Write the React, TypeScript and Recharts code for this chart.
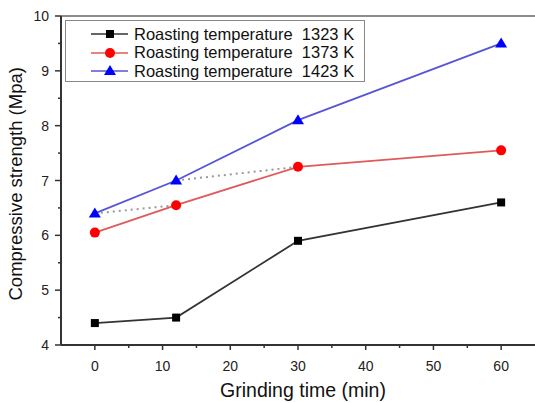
import React from 'react'
import { LineChart, Line, XAxis, YAxis, ReferenceLine } from 'recharts'

const times = [0, 12, 30, 60]
const t1323 = [4.4, 4.5, 5.9, 6.6]
const t1373 = [6.05, 6.55, 7.25, 7.55]
const t1423 = [6.4, 7.0, 8.1, 9.5]
// grey dotted guide segments
const guideA: [number, number][] = [[0, 6.4], [12, 6.55]]
const guideB: [number, number][] = [[12, 7.0], [30, 7.25]]

const xTicks = [-5, 0, 5, 10, 15, 20, 25, 30, 35, 40, 45, 50, 55, 60, 65]
const yTicks = [4, 4.5, 5, 5.5, 6, 6.5, 7, 7.5, 8, 8.5, 9, 9.5, 10]

const SERIES = [
  { key: 'k1323', name: 'Roasting temperature\u00a0\u00a01323 K', line: '#333333', mark: '#000000', shape: 'square' },
  { key: 'k1373', name: 'Roasting temperature\u00a0\u00a01373 K', line: '#e05a5a', mark: '#ff0000', shape: 'circle' },
  { key: 'k1423', name: 'Roasting temperature\u00a0\u00a01423 K', line: '#5555d5', mark: '#0000ff', shape: 'triangle' },
]

const data = times.map((t, i) => {
  const row: Record<string, number | null> = { t, k1323: t1323[i], k1373: t1373[i], k1423: t1423[i], gA: null, gB: null }
  guideA.forEach(([x, y]) => { if (x === t) row.gA = y })
  guideB.forEach(([x, y]) => { if (x === t) row.gB = y })
  return row
})

const FONT = 'Arial, "Liberation Sans", sans-serif'

function Marker({ shape, color, cx, cy }: { shape: string; color: string; cx: number; cy: number }) {
  if (cx == null || cy == null) return null
  if (shape === 'square') return <rect x={cx - 4} y={cy - 4} width={8} height={8} fill={color} />
  if (shape === 'circle') return <circle cx={cx} cy={cy} r={5} fill={color} />
  return <polygon points={`${cx},${cy - 6} ${cx + 6},${cy + 4} ${cx - 6},${cy + 4}`} fill={color} />
}

const XTick = (props: any) => {
  const { x, y, payload } = props
  const v = payload.value
  const major = v % 10 === 0
  const show = major && v >= 0 && v <= 60
  if (v < -4 || v > 64) return null
  return (
    <g>
      <line x1={x} y1={y} x2={x} y2={y + (major ? 5 : 3)} stroke="#333" strokeWidth={1.5} />
      {show && (
        <text x={x} y={y + 26} textAnchor="middle" fontSize={14} fill="#222" fontFamily={FONT}>
          {v}
        </text>
      )}
    </g>
  )
}

const YTick = (props: any) => {
  const { x, y, payload } = props
  const v = payload.value
  const major = Number.isInteger(v)
  return (
    <g>
      <line x1={x} y1={y} x2={x - (major ? 6 : 3)} y2={y} stroke="#333" strokeWidth={1.5} />
      {major && (
        <text x={x - 12} y={y + 5} textAnchor="end" fontSize={14} fill="#222" fontFamily={FONT}>
          {v}
        </text>
      )}
    </g>
  )
}

const LegendBox = () => (
  <div
    style={{
      position: 'absolute',
      left: 65,
      top: 20,
      width: 300,
      height: 62,
      border: '1.5px solid #888',
      boxSizing: 'border-box',
      background: '#fff',
      paddingTop: 4,
      fontFamily: FONT,
    }}
  >
    {SERIES.map((s) => (
      <div key={s.key} style={{ display: 'flex', alignItems: 'center', height: 18.5 }}>
        <svg width={68} height={16} style={{ flexShrink: 0 }}>
          <line x1={25} y1={8} x2={62} y2={8} stroke={s.line} strokeWidth={1.5} />
          <Marker shape={s.shape} color={s.mark} cx={44} cy={8} />
        </svg>
        <span style={{ fontSize: 16.5, color: '#111', whiteSpace: 'nowrap' }}>{s.name}</span>
      </div>
    ))}
  </div>
)

export default function App() {
  return (
    <div style={{ position: 'absolute', left: 0, top: 0, width: 535, height: 403, background: '#fff' }}>
      <LineChart width={535} height={403} data={data} margin={{ top: 16, right: 0, left: 10, bottom: 0 }}>
        <XAxis
          dataKey="t"
          type="number"
          domain={[-5, 65]}
          ticks={xTicks}
          interval={0}
          tick={<XTick />}
          tickLine={false}
          tickSize={0}
          tickMargin={0}
          height={58}
          stroke="#333"
          strokeWidth={2}
          label={{ value: 'Grinding time (min)', position: 'insideBottom', offset: 6, dx: 5, fontSize: 19.5, fill: '#111', fontFamily: FONT }}
        />
        <YAxis
          type="number"
          domain={[4, 10]}
          ticks={yTicks}
          interval={0}
          tick={<YTick />}
          tickLine={false}
          tickSize={0}
          tickMargin={0}
          width={51}
          stroke="#333"
          strokeWidth={2}
          label={{
            value: 'Compressive strength (Mpa)',
            angle: -90,
            position: 'insideLeft',
            dx: 0,
            dy: 120,
            fontSize: 18.5,
            fill: '#111',
            fontFamily: FONT,
          }}
        />
        <ReferenceLine y={10} stroke="#666" strokeWidth={1.5} />
        <Line
          dataKey="gA"
          stroke="#999"
          strokeWidth={2}
          strokeDasharray="2 4"
          dot={false}
          connectNulls
          legendType="none"
          isAnimationActive={false}
        />
        <Line
          dataKey="gB"
          stroke="#999"
          strokeWidth={2}
          strokeDasharray="2 4"
          dot={false}
          connectNulls
          legendType="none"
          isAnimationActive={false}
        />
        {SERIES.map((s) => (
          <Line
            key={s.key}
            dataKey={s.key}
            name={s.name}
            stroke={s.line}
            strokeWidth={1.8}
            isAnimationActive={false}
            dot={(p: any) => <Marker key={`${s.key}-${p.index}`} shape={s.shape} color={s.mark} cx={p.cx} cy={p.cy} />}
            activeDot={false}
          />
        ))}
      </LineChart>
      <LegendBox />
    </div>
  )
}
